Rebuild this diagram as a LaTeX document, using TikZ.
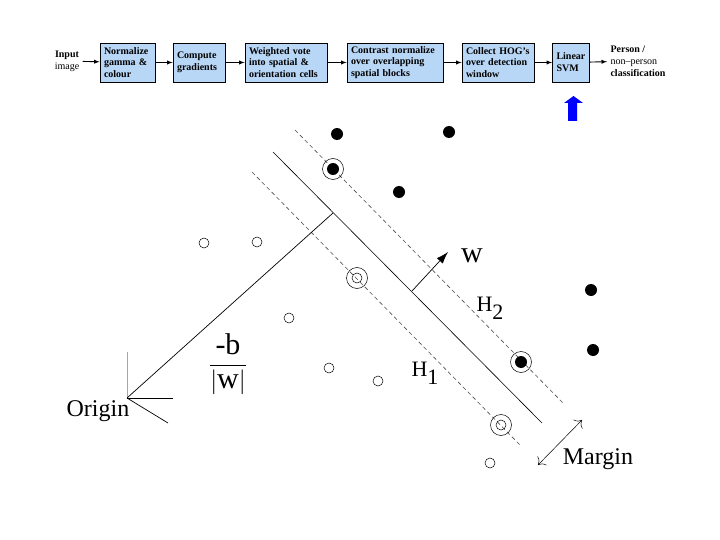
\documentclass[tikz,border=0pt]{standalone}
\usepackage{fontspec}
\setmainfont{Liberation Serif}
\usepackage{tikz}
\usetikzlibrary{arrows}
\usetikzlibrary{arrows.meta}

\definecolor{boxblue}{RGB}{184,214,245}
\newcommand\pipefont{\fontsize{10}{11.8}\selectfont}
\newcommand\bigfont{\fontsize{24}{28}\selectfont}
\newcommand\hugefont{\fontsize{30}{34}\selectfont}

\tikzset{
	stage/.style={draw, line width=0.8pt, fill=boxblue, align=left,
		font=\pipefont\bfseries, minimum height=39pt, inner xsep=4pt, inner ysep=0pt},
	pipe/.style={->, >=latex, line width=0.9pt},
	dot/.style={circle, fill=black, inner sep=0pt, minimum size=12pt},
	hollow/.style={circle, draw, line width=0.5pt, inner sep=0pt, minimum size=10pt},
	ring/.style={circle, draw, line width=0.5pt, inner sep=0pt, minimum size=21pt},
	margin line/.style={dash pattern=on 4pt off 3pt, line width=0.6pt, black!70}
}

\begin{document}
\begin{tikzpicture}[x=1pt,y=-1pt]
	\useasboundingbox (0,0) rectangle (720,540);

	% pipeline on top
	\node[font=\pipefont, align=center] (input) at (67,61) {\textbf{Input}\\image};
	\node[stage, text width=47pt] (norm) at (127.5,62.5) {Normalize\\gamma \&\\colour};
	\node[stage, text width=44pt] (grad) at (199,62.5) {Compute\\gradients};
	\node[stage, text width=74pt] (vote) at (286,62.5) {Weighted vote\\into spatial \&\\orientation cells};
	\node[stage, text width=88pt] (contrast) at (395,62.5) {Contrast normalize\\over overlapping\\spatial blocks};
	\node[stage, text width=64pt] (collect) at (498,62.5) {Collect HOG's\\over detection\\window};
	\node[stage, text width=29pt] (svm) at (571,62.5) {Linear\\SVM};
	\node[font=\pipefont, align=left, anchor=west] (person) at (607,61)
		{\textbf{Person /}\\non--person\\\textbf{classification}};
	\draw[pipe] (input) -- (norm);
	\draw[pipe] (norm) -- (grad);
	\draw[pipe] (grad) -- (vote);
	\draw[pipe] (vote) -- (contrast);
	\draw[pipe] (contrast) -- (collect);
	\draw[pipe] (collect) -- (svm);
	\draw[pipe] (svm) -- (person);

	\fill[blue] (568,121) -- (568,103) -- (564,103) -- (573.5,96)
		-- (583,103) -- (577,103) -- (577,121) -- cycle;

	% separating hyperplane and the two margins
	\draw[line width=0.6pt] (273,152) -- (542,423);
	\draw[margin line] (295,130) -- (563,403);
	\draw[margin line] (252,172) -- (520,445);

	% origin and distance -b/|w|
	\coordinate (origin) at (127,398);
	\coordinate (foot) at (333,213);
	\draw[black!35, line width=0.8pt] (127,352) -- (origin);
	\draw[line width=0.7pt] (origin) -- (173,398);
	\draw[line width=0.7pt] (origin) -- (168,423);
	\draw[line width=0.7pt] (origin) -- (foot);
	\node[font=\bigfont] (originlbl) at (98,411) {Origin};
	\node[font=\hugefont] (dist) at (228,364) {$\displaystyle\frac{\mbox{-b}}{|\mbox{w}|}$};

	% normal vector
	\coordinate (wbase) at (412,291);
	\coordinate (wtip) at (448,252);
	\draw[-{Latex[length=12pt,width=8pt]}, line width=0.7pt] (wbase) -- (wtip);
	\node[font=\hugefont] (wlbl) at (472,256) {w};

	\node[font=\fontsize{22}{26}\selectfont] (h2lbl) at (490,308) {H\raisebox{-8pt}{2}};
	\node[font=\fontsize{22}{26}\selectfont] (h1lbl) at (425,373) {H\raisebox{-8pt}{1}};

	% positive samples
	\foreach \p [count=\i] in {(337,134),(449,132),(399,192),(591,290),(593,350)}
		\node[dot] (pos\i) at \p {};
	\node[dot] (svpos1) at (333,169) {};
	\node[ring] (svpos1r) at (svpos1) {};
	\node[dot] (svpos2) at (521,362) {};
	\node[ring] (svpos2r) at (svpos2) {};

	% negative samples
	\foreach \p [count=\i] in {(204,243),(257,242),(289,318),(329,368),(378,381),(490,463)}
		\node[hollow] (neg\i) at \p {};
	\node[hollow] (svneg1) at (357,278) {};
	\node[ring] (svneg1r) at (svneg1) {};
	\node[hollow] (svneg2) at (501,425) {};
	\node[ring] (svneg2r) at (svneg2) {};

	% margin
	\coordinate (mlow) at (538,465);
	\coordinate (mhigh) at (582,420);
	\draw[{To[length=6pt]}-{To[length=6pt]}, line width=0.5pt] (mlow) -- (mhigh);
	\node[font=\bigfont] (marginlbl) at (598,459) {Margin};
\end{tikzpicture}
\end{document}
